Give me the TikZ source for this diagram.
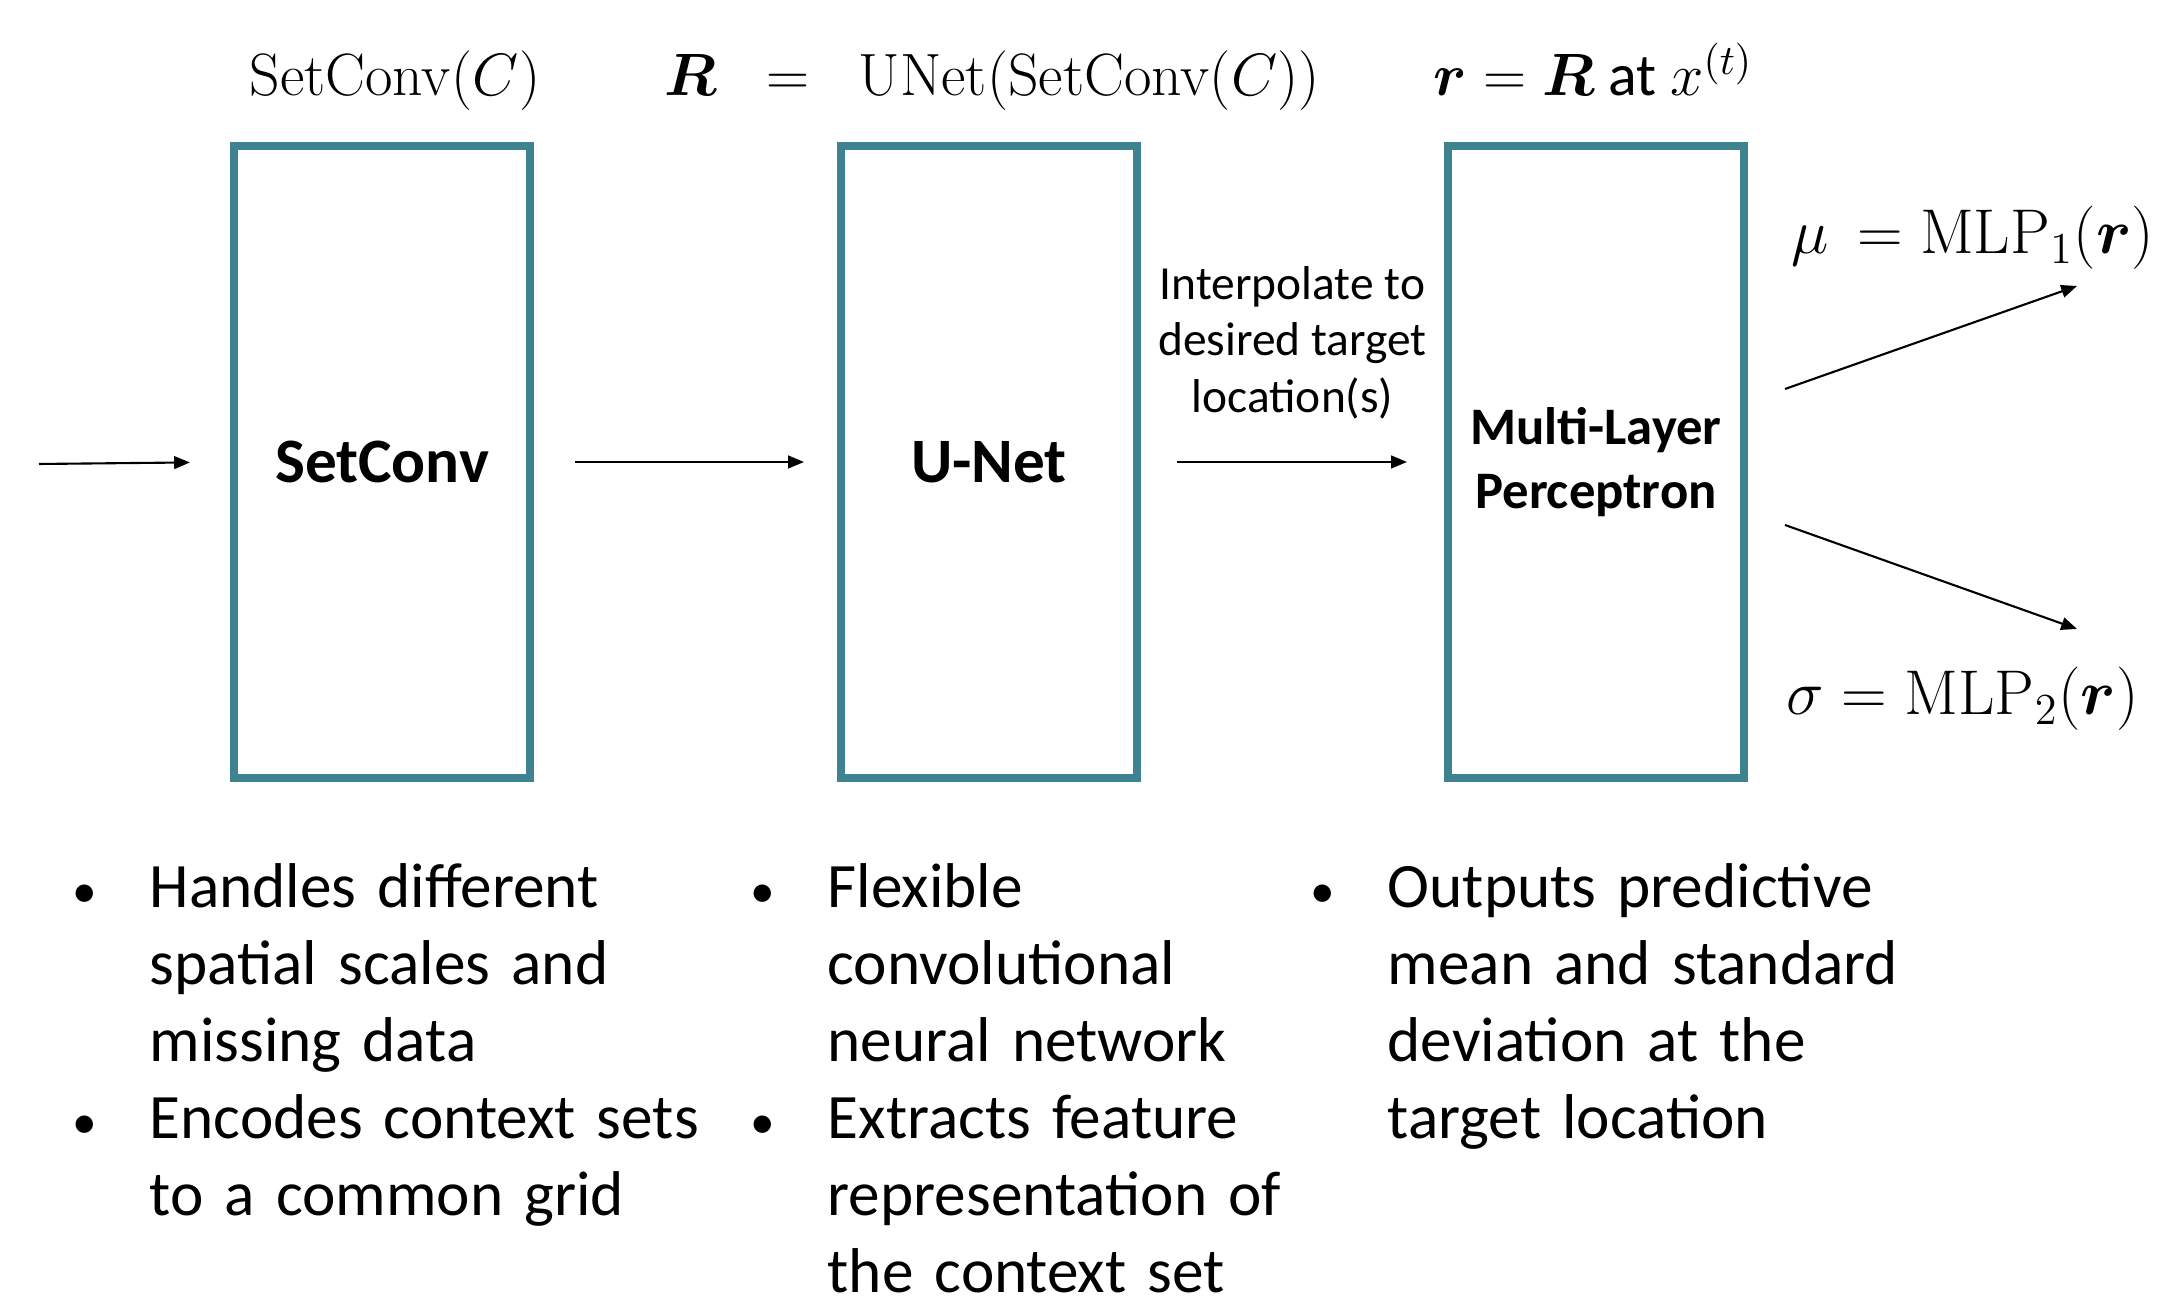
\RequirePackage{fix-cm}
\documentclass[tikz,border=0pt]{standalone}
\usepackage{amsmath}
\usepackage[no-math]{fontspec}
\setmainfont{Carlito}
\usepackage{tikz}
\definecolor{colorBox}{HTML}{3F8390}
\usetikzlibrary{arrows.meta}
\usetikzlibrary{positioning}
\tikzset{
   every path/.style={>={Triangle[length=4.5pt,width=3.6pt]}},
   block/.style={draw=colorBox,line width=2.3pt,minimum width=29.6mm,minimum height=63.2mm,outer sep=0pt,align=center,font=\fontsize{18}{22}\selectfont\bfseries},
   flow/.style={->,line width=0.6pt},
   bullets/.style={anchor=north west,inner sep=0pt,text width=70mm,font=\fontsize{18}{21.9}\selectfont},
   formula/.style={inner sep=0pt,anchor=base,font=\fontsize{17}{20}\selectfont},
   output/.style={inner sep=0pt,anchor=base west,font=\fontsize{18}{21}\selectfont},
}
\newlength{\bulletind}
\setlength{\bulletind}{8.9mm}
\newcommand{\bitem}[1]{\par\noindent\makebox[\bulletind][l]{\hspace{1.2mm}{\fontsize{14}{14}\selectfont\textbullet}}\parbox[t]{60mm}{#1\strut}\par\prevdepth=\dp\strutbox}
\newcommand{\vR}{\boldsymbol{R}}
\newcommand{\vr}{\boldsymbol{r}}

\begin{document}
\begin{tikzpicture}[x=0.1mm,y=-0.1mm]

        \useasboundingbox (0,0) rectangle (2157,1302);

        \node[block] (setconv) at (382, 462) {SetConv};
        \node[block, right=31.1mm of setconv] (unet) {U-Net};
        \node[block, right=31.1mm of unet, font=\fontsize{15}{18.2}\selectfont\bfseries] (mlp) {Multi-Layer\\Perceptron};

        \node[formula] (encoder) at ( 395, 96) {$\mathrm{SetConv}(C)$};
        \node[formula] (grid)    at ( 992, 96) {$\vR \;\;=\;\; \mathrm{UNet}(\mathrm{SetConv}(C))$};
        \node[formula] (rep)     at (1593, 96) {$\vr = \vR\ \text{at}\ x^{(t)}$};

        \node[output] (mu)    at (1791, 254) {$\mu\,=\mathrm{MLP}_1(\vr)$};
        \node[output] (sigma) at (1786, 715) {$\sigma=\mathrm{MLP}_2(\vr)$};

        \coordinate (context) at (39, 464);
        \coordinate (mutip)    at (2077, 286);
        \coordinate (sigmatip) at (2077, 629);

        \draw[flow, shorten >=4.4mm] (context) -- (setconv.west);
        \draw[flow, shorten <=4.5mm, shorten >=3.7mm] (setconv) -- (unet);
        \draw[flow, shorten <=4mm, shorten >=4.1mm] (unet) -- (mlp)
              node[midway, above=4.2mm, inner sep=0pt, align=center, font=\fontsize{13.5}{16.1}\selectfont]
              (interp) {Interpolate to\\desired target\\location(s)};
        \draw[flow] ([shift={(41,-73)}]mlp.east) -- (mutip);
        \draw[flow] ([shift={(41,63)}]mlp.east) -- (sigmatip);

        \node[bullets] (setconvnotes) at (60, 830) {%
          \bitem{Handles different\\spatial scales and\\missing data}%
          \bitem{Encodes context sets\\to a common grid}};
        \node[bullets] (unetnotes) at (738, 830) {%
          \bitem{Flexible\\convolutional\\neural network}%
          \bitem{Extracts feature\\representation of\\the context set}};
        \node[bullets] (mlpnotes) at (1298, 830) {%
          \bitem{Outputs predictive\\mean and standard\\deviation at the\\target location}};

      \end{tikzpicture}
\end{document}
